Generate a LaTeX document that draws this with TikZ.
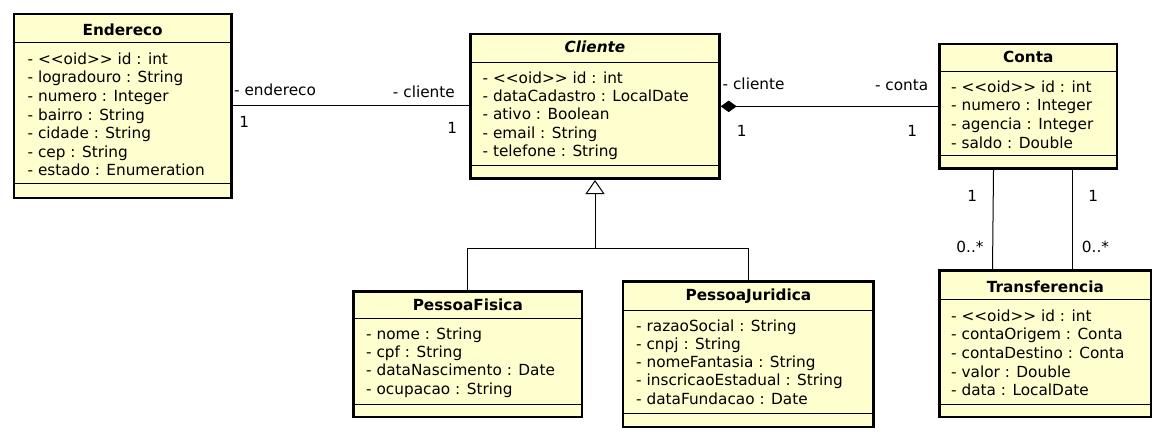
\documentclass[tikz,border=0pt]{standalone}
\usepackage{fontspec}
\setmainfont{DejaVu Sans}
\usetikzlibrary{arrows.meta,fit,calc}
\definecolor{classfill}{HTML}{FEFECE}
\newcommand\oid{<\kern0pt<oid>\kern0pt>}
\tikzset{
  classbox/.style={draw=black, line width=2.6pt, fill=classfill, inner sep=0pt, rectangle},
  sepline/.style={draw=black, line width=0.9pt},
  attr/.style={anchor=base west, inner sep=0pt, font=\fontsize{15.3}{18}\selectfont},
  ctitle/.style={anchor=base, inner sep=0pt, font=\fontsize{15.3}{18}\selectfont\bfseries},
  lbl/.style={inner sep=0pt, font=\fontsize{15.3}{18}\selectfont},
  conn/.style={draw=black, line width=1pt},
}
\newcommand\umlclass[9]{%
  \node[classbox, fit={(#2,#3) (#4,#5)}] (#1) {};
  \draw[sepline] (#2,#6) -- (#4,#6);
  \draw[sepline] (#2,#7) -- (#4,#7);
  \node[ctitle] (#1-t) at ({(#2+#4)/2},#8) {#9};
}
\newcommand\umlattrs[5]{%
  \foreach \t [count=\i from 0] in {#5}{\node[attr] (#1-a\i) at (#2,{#3+\i*#4}) {\t};}
}
\begin{document}
\begin{tikzpicture}[x=1pt,y=-1pt]
\fill[white] (0,0) rectangle (1166,441);
\useasboundingbox (0,0) rectangle (1166,441);

\umlclass{endereco}{14}{14}{231.3}{198}{42.3}{183.3}{36}{Endereco}
\umlattrs{endereco}{27.5}{64.3}{18.6}{- \oid{} id : int, - logradouro : String, - numero : Integer, - bairro : String, - cidade : String, - cep : String, - estado : Enumeration}

\umlclass{cliente}{470.6}{34}{719.4}{178.7}{62.3}{165.7}{52.5}{\textit{Cliente}}
\umlattrs{cliente}{482.5}{83.5}{18.2}{- \oid{} id : int, - dataCadastro : LocalDate, - ativo : Boolean, - email : String, - telefone : String}

\umlclass{conta}{939.6}{44}{1117}{168.7}{71}{155.7}{62.8}{Conta}
\umlattrs{conta}{951}{92.3}{18.67}{- \oid{} id : int, - numero : Integer, - agencia : Integer, - saldo : Double}

\umlclass{transf}{939.6}{270.6}{1151}{417}{299.3}{404}{292.2}{Transferencia}
\umlattrs{transf}{951}{321}{18.7}{- \oid{} id : int, - contaOrigem : Conta, - contaDestino : Conta, - valor : Double, - data : LocalDate}

\umlclass{pf}{353.6}{291.3}{582}{417}{318.3}{404}{310.5}{PessoaFisica}
\umlattrs{pf}{366}{339.3}{18.3}{- nome : String, - cpf : String, - dataNascimento : Date, - ocupacao : String}

\umlclass{pj}{623}{281.3}{873.7}{427}{310}{413.3}{300.5}{PessoaJuridica}
\umlattrs{pj}{636}{331}{18.3}{- razaoSocial : String, - cnpj : String, - nomeFantasia : String, - inscricaoEstadual : String, - dataFundacao : Date}

% associations
\draw[conn] (endereco.east) -- (endereco.east -| cliente.west);
\draw[conn, {Diamond[length=16pt,width=11.5pt]}-] (cliente.east) -- (cliente.east -| conta.west);

% generalization
\coordinate (gen) at (cliente.south |- 0,248.5);
\draw[conn, -{Triangle[length=14pt,width=19pt,fill=white]}] (gen) -- (cliente.south);
\draw[conn] (pf.north) |- (gen) -| (pj.north);

% conta - transferencia
\draw[conn] ([xshift=55.2pt]conta.south west) -- ([xshift=54.2pt]transf.north west);
\draw[conn] ([xshift=134pt]conta.south west) -- ([xshift=134pt]transf.north west);

% labels
\node[lbl, anchor=base west] (l1) at (234,95.5) {- endereco};
\node[lbl, anchor=base east] (l2) at (455,97.5) {- cliente};
\node[lbl, anchor=base] (l3) at (244.3,127.5) {1};
\node[lbl, anchor=base] (l4) at (452.3,133.5) {1};
\node[lbl, anchor=base west] (l5) at (722.5,89.3) {- cliente};
\node[lbl, anchor=base east] (l6) at (928.5,91) {- conta};
\node[lbl, anchor=base] (l7) at (741.7,136) {1};
\node[lbl, anchor=base] (l8) at (912.3,136) {1};
\node[lbl, anchor=base] (l9) at (972.3,201) {1};
\node[lbl, anchor=base] (l10) at (970,252.7) {0..*};
\node[lbl, anchor=base] (l11) at (1093.3,201) {1};
\node[lbl, anchor=base] (l12) at (1095.5,252.7) {0..*};
\end{tikzpicture}
\end{document}
